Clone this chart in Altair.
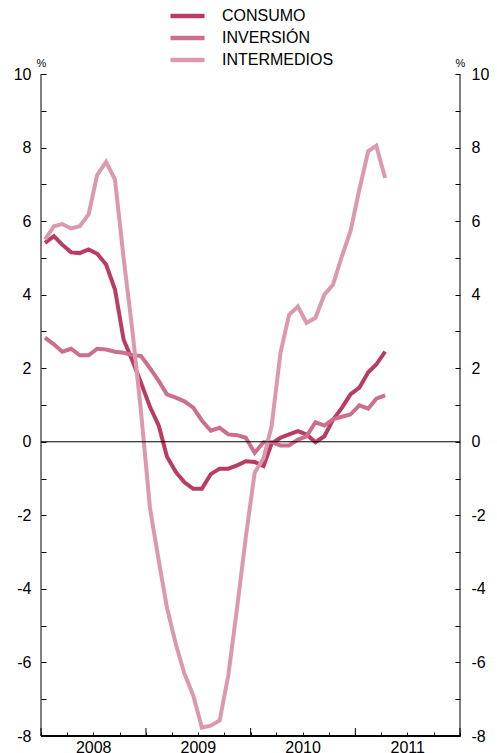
import altair as alt
import pandas as pd
from datetime import datetime, timezone

# ---- data (monthly, Jan 2008 - Apr 2011) ----
meses = [f"{a}-{m:02d}-15" for a in (2008, 2009, 2010, 2011) for m in range(1, 13)][:40]
series = ["CONSUMO", "INVERSIÓN", "INTERMEDIOS"]
colores = ["#B93C63", "#CC6F8E", "#DC98AE"]

consumo = [5.41, 5.59, 5.36, 5.15, 5.13, 5.23, 5.11, 4.82, 4.14, 2.78, 2.2, 1.6,
           0.95, 0.43, -0.4, -0.82, -1.1, -1.28, -1.28, -0.88, -0.73, -0.73, -0.64, -0.53,
           -0.55, -0.66, -0.05, 0.11, 0.2, 0.29, 0.2, -0.01, 0.15, 0.6, 0.92, 1.29,
           1.47, 1.89, 2.10, 2.45]
inversion = [2.83, 2.65, 2.45, 2.53, 2.35, 2.35, 2.53, 2.51, 2.45, 2.42, 2.36, 2.33,
             2.0, 1.65, 1.29, 1.2, 1.1, 0.93, 0.58, 0.3, 0.38, 0.2, 0.18, 0.11,
             -0.3, -0.01, -0.01, -0.1, -0.1, 0.06, 0.15, 0.53, 0.44, 0.61, 0.68, 0.74,
             0.99, 0.9, 1.17, 1.26]
intermedios = [5.50, 5.86, 5.92, 5.80, 5.86, 6.18, 7.26, 7.61, 7.13, 5.0, 3.0, 0.8,
               -1.8, -3.25, -4.5, -5.5, -6.3, -6.9, -7.77, -7.72, -7.58, -6.35, -4.5, -2.6,
               -0.84, -0.45, 0.42, 2.42, 3.45, 3.68, 3.23, 3.37, 4.0, 4.27, 5.04, 5.72,
               6.86, 7.9, 8.05, 7.17]

y_ticks = list(range(-8, 11))
anios = ["2008-01-01", "2009-01-01", "2010-01-01", "2011-01-01", "2012-01-01"]


def utc_ms(a, m, d=1):
    return int(datetime(a, m, d, tzinfo=timezone.utc).timestamp() * 1000)


x_vals = [utc_ms(a, m) for a in range(2008, 2012) for m in (1, 4, 7, 10)] + [utc_ms(2012, 1)]

rows = []
for nombre, vals in zip(series, [consumo, inversion, intermedios]):
    for f, v in zip(meses, vals):
        rows.append({"fecha": f, "valor": v, "serie": nombre})
df = pd.DataFrame(rows)

W, H = 419, 662
FONT = "Liberation Sans"
x_scale = alt.Scale(domain=[utc_ms(2008, 1), utc_ms(2012, 1)])
y_scale = alt.Scale(domain=[-8, 10], nice=False)

lines = alt.Chart(df).mark_line(strokeWidth=4).encode(
    x=alt.X("fecha:T", scale=x_scale, axis=alt.Axis(
        orient="bottom", values=x_vals, offset=-4, tickSize=4, tickColor="black",
        tickWidth=1, domain=False, grid=False, title=None, labelAngle=0,
        labelExpr="utcmonth(datum.value) == 6 ? utcFormat(datum.value, '%Y') : ''",
        labelFontSize=16, labelFont=FONT, labelColor="black", labelPadding=3,
        labelFlush=False, labelOverlap=False)),
    y=alt.Y("valor:Q", scale=y_scale, axis=alt.Axis(
        orient="left", values=y_ticks, offset=-5, tickSize=5, tickColor="black",
        domain=False, grid=False,
        labelExpr="datum.value % 2 == 0 ? '' + datum.value : ''",
        labelFontSize=16, labelFont=FONT, labelColor="black", labelPadding=10,
        labelOverlap=False,
        title="%", titleAngle=0, titleX=-5, titleY=-6, titleBaseline="bottom",
        titleAlign="center", titleFontSize=11, titleFontWeight="normal",
        titleFont=FONT, titleColor="black")),
    color=alt.Color("serie:N", scale=alt.Scale(domain=series, range=colores),
                    legend=alt.Legend(orient="none", legendX=127, legendY=-69, title=None,
                                      symbolType="stroke", symbolSize=1156,
                                      symbolStrokeWidth=4.5, labelFontSize=16,
                                      labelFont=FONT, labelColor="black", labelOffset=15,
                                      rowPadding=0, clipHeight=22, padding=0)),
)

zero = alt.Chart(pd.DataFrame({"v": [0]})).mark_rule(color="black", strokeWidth=1).encode(
    y=alt.Y("v:Q", scale=y_scale, axis=alt.Axis(
        orient="right", values=y_ticks, offset=-5, tickSize=5, tickColor="black",
        domain=False, grid=False,
        labelExpr="datum.value % 2 == 0 ? '' + datum.value : ''",
        labelFontSize=16, labelFont=FONT, labelColor="black", labelPadding=11,
        labelOverlap=False,
        title="%", titleAngle=0, titleX=5, titleY=-6, titleBaseline="bottom",
        titleAlign="center", titleFontSize=11, titleFontWeight="normal",
        titleFont=FONT, titleColor="black")),
)

# axis frame lines (left, right) and thick bottom line
frame_l = alt.Chart(pd.DataFrame({"k": [0]})).mark_rule(color="black", strokeWidth=1).encode(
    x=alt.value(0))
frame_r = alt.Chart(pd.DataFrame({"k": [0]})).mark_rule(color="black", strokeWidth=1).encode(
    x=alt.value(W))
frame_b = alt.Chart(pd.DataFrame({"k": [0]})).mark_rule(color="black", strokeWidth=2).encode(
    x=alt.value(0), x2=alt.value(W), y=alt.value(H))

# longer year ticks at the year boundaries
major = alt.Chart(pd.DataFrame({"d": anios})).mark_rule(color="black", strokeWidth=1).encode(
    x=alt.X("d:T", scale=x_scale, axis=None),
    y=alt.value(H),
    y2=alt.value(H - 8),
)

chart = alt.layer(lines, zero, frame_l, frame_r, frame_b, major).resolve_axis(
    x="independent", y="independent"
).properties(
    width=W, height=H,
    padding={"left": 33, "top": 66, "right": 29, "bottom": 17},
    autosize=alt.AutoSizeParams(type="none"),
).configure(font=FONT).configure_view(stroke=None)

chart.save("out.html", embed_options={"renderer": "svg", "actions": False})
